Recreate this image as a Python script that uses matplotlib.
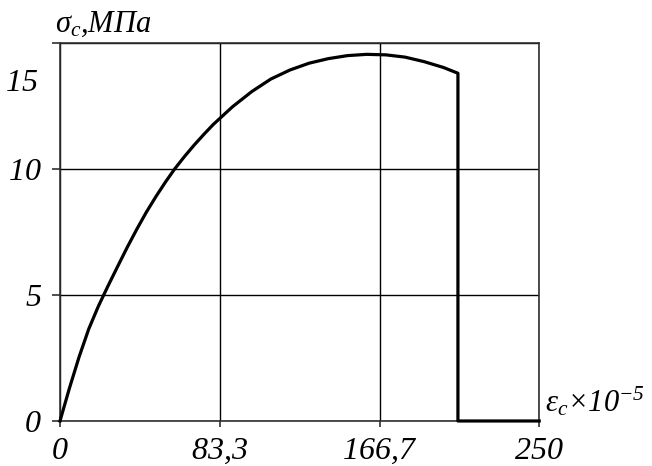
import numpy as np
import matplotlib
matplotlib.use('Agg')
from matplotlib import pyplot as plt

# stress-strain curve of concrete
eps = [0, 5, 10, 15, 20, 25, 30, 35, 40, 45, 50, 55, 60, 65, 70, 75, 80,
       90, 100, 110, 120, 130, 140, 150, 160, 170, 180, 190, 200, 207.6, 207.6, 250]
sig = [0, 1.32, 2.55, 3.65, 4.55, 5.35, 6.12, 6.88, 7.6, 8.28, 8.9, 9.48, 10.02,
       10.5, 10.95, 11.37, 11.77, 12.47, 13.07, 13.57, 13.93, 14.2, 14.38,
       14.5, 14.55, 14.53, 14.44, 14.26, 14.03, 13.8, 0, 0]

x_ticks = [0, 83.3, 166.7, 250]
x_labels = ['$0$', '$83{,}3$', '$166{,}7$', '$250$']
y_ticks = [0, 5, 10, 15]
y_labels = ['$0$', '$5$', '$10$', '']

plt.rcParams['font.family'] = ['Liberation Serif', 'DejaVu Serif']
plt.rcParams['font.style'] = 'italic'
plt.rcParams['mathtext.fontset'] = 'custom'
plt.rcParams['mathtext.it'] = 'Liberation Serif:italic'
plt.rcParams['mathtext.rm'] = 'Liberation Serif:italic'

fig = plt.figure(figsize=(6.52, 4.66), dpi=100)
ax = fig.add_axes([0.092, 0.0966, 0.735, 0.8111])

ax.plot(eps, sig, color='black', lw=2.3, solid_joinstyle='round', clip_on=False, zorder=3)

ax.set_xlim(0, 250)
ax.set_ylim(0, 15)
ax.set_xticks(x_ticks)
ax.set_xticklabels(x_labels)
ax.set_yticks(y_ticks)
ax.set_yticklabels(y_labels)
ax.grid(True, color='black', lw=1.0)
for s in ax.spines.values():
    s.set_color('#303030')
    s.set_linewidth(1.2)
ax.tick_params(axis='both', labelsize=23, direction='out', color='#303030', width=1.2)
ax.tick_params(axis='y', length=6, pad=7)
ax.tick_params(axis='x', length=4.5, pad=7)

# the "15" label sits below its grid line in the original
ax.text(-0.045, 13.4, '$15$', fontsize=23, ha='right', va='center',
        transform=ax.get_yaxis_transform())

ax.text(-0.01, 1.01, r'$\sigma_c$,МПа', fontsize=22,
        ha='left', va='bottom', transform=ax.transAxes)
ax.text(1.012, 0.05, r'$ε_c$×10$^{-5}$', fontsize=22,
        ha='left', va='center', transform=ax.transAxes)

fig.savefig('out.png', dpi=100)
